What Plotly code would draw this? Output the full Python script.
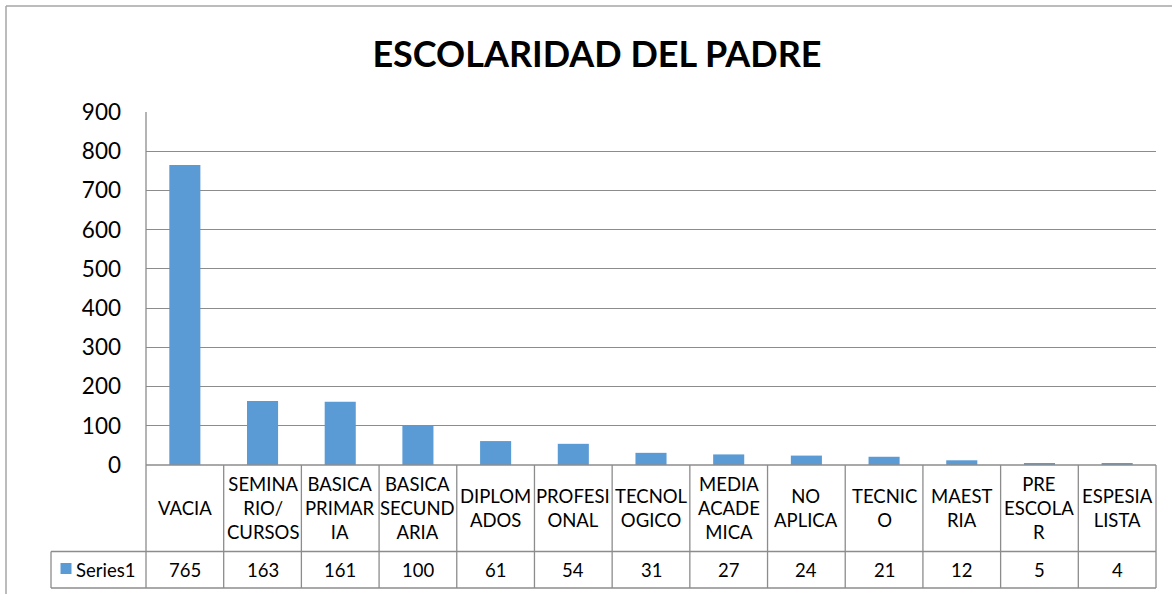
import plotly.graph_objects as go

categories = ["VACIA", "SEMINARIO/CURSOS", "BASICA PRIMARIA", "BASICA SECUNDARIA",
              "DIPLOMADOS", "PROFESIONAL", "TECNOLOGICO", "MEDIA ACADEMICA",
              "NO APLICA", "TECNICO", "MAESTRIA", "PRE ESCOLAR", "ESPESIALISTA"]
tick_labels = ["VACIA", "SEMINA<br>RIO/<br>CURSOS", "BASICA<br>PRIMAR<br>IA",
               "BASICA<br>SECUND<br>ARIA", "DIPLOM<br>ADOS", "PROFESI<br>ONAL",
               "TECNOL<br>OGICO", "MEDIA<br>ACADE<br>MICA", "NO<br>APLICA",
               "TECNIC<br>O", "MAEST<br>RIA", "PRE<br>ESCOLA<br>R", "ESPESIA<br>LISTA"]
values = [765, 163, 161, 100, 61, 54, 31, 27, 24, 21, 12, 5, 4]
series_name = "Series1"
title_text = "ESCOLARIDAD DEL PADRE"

W, H = 1172, 594
L, R, T, B = 146, 1156, 112, 465
PW, PH = R - L, B - T
BAR_COLOR = "#5B9BD5"
FONT = "Lato"
LINE = "#8C8C8C"

def px(x):
    return (x - L) / PW

def py(y):
    return (B - y) / PH

fig = go.Figure(go.Bar(x=categories, y=values, marker=dict(color=BAR_COLOR, line=dict(width=0)),
                       name=series_name, showlegend=False, hoverinfo="x+y"))

shapes = []
def hline(x0, x1, y, color=LINE, w=1.3):
    shapes.append(dict(type="line", xref="paper", yref="paper", x0=px(x0), x1=px(x1),
                       y0=py(y), y1=py(y), line=dict(color=color, width=w)))
def vline(x, y0, y1, color=LINE, w=1.3):
    shapes.append(dict(type="line", xref="paper", yref="paper", x0=px(x), x1=px(x),
                       y0=py(y0), y1=py(y1), line=dict(color=color, width=w)))

# outer chart border
hline(6, 1175, 6, color="#A6A6A6", w=1.5)
vline(6, 6, 600, color="#A6A6A6", w=1.5)

# data table
n = len(categories)
cw = PW / n
row1_bottom, row2_bottom = 551.5, 588
hline(L, R, B)
hline(51, R, row1_bottom)
hline(51, R, row2_bottom)
vline(51, row1_bottom, row2_bottom)
vline(L, T, row2_bottom)
for k in range(1, n + 1):
    vline(L + k * cw, B, row2_bottom)

# legend key square
shapes.append(dict(type="rect", xref="paper", yref="paper", x0=px(60.5), x1=px(71.5),
                   y0=py(574), y1=py(563), fillcolor=BAR_COLOR, line=dict(width=0)))

annotations = []
for cat, lab, v in zip(categories, tick_labels, values):
    annotations.append(dict(x=cat, xref="x", y=py((B + row1_bottom) / 2), yref="paper",
                            text=lab, showarrow=False, xanchor="center", yanchor="middle",
                            font=dict(family=FONT, size=18.5, color="#000000")))
    annotations.append(dict(x=cat, xref="x", y=py((row1_bottom + row2_bottom) / 2), yref="paper",
                            text=str(v), showarrow=False, xanchor="center", yanchor="middle",
                            font=dict(family=FONT, size=18.5, color="#000000")))
annotations.append(dict(x=px(73.5), xref="paper", y=py(569.5), yref="paper", text=series_name,
                        showarrow=False, xanchor="left", yanchor="middle",
                        font=dict(family=FONT, size=18.5, color="#000000")))

fig.update_layout(
    width=W, height=H, autosize=False,
    margin=dict(l=L, r=W - R, t=T, b=H - B, pad=0),
    paper_bgcolor="white", plot_bgcolor="white",
    title=dict(text="<b>" + title_text + "</b>", x=597 / W, xanchor="center",
               y=1 - 54 / H, yanchor="middle",
               font=dict(family=FONT, size=36, color="#000000")),
    bargap=0.6,
    xaxis=dict(showticklabels=False, showgrid=False, zeroline=False, showline=False,
               ticks=""),
    yaxis=dict(range=[0, 900], dtick=100, showgrid=True, gridcolor=LINE, gridwidth=1.3,
               zeroline=False, showline=False, ticks="", ticklabelstandoff=24,
               tickfont=dict(family=FONT, size=22.5, color="#000000")),
    shapes=shapes, annotations=annotations,
)

fig.write_html("out.html", config={"displayModeBar": False},
               post_script="document.body.style.margin='0';document.body.style.overflow='hidden';")
